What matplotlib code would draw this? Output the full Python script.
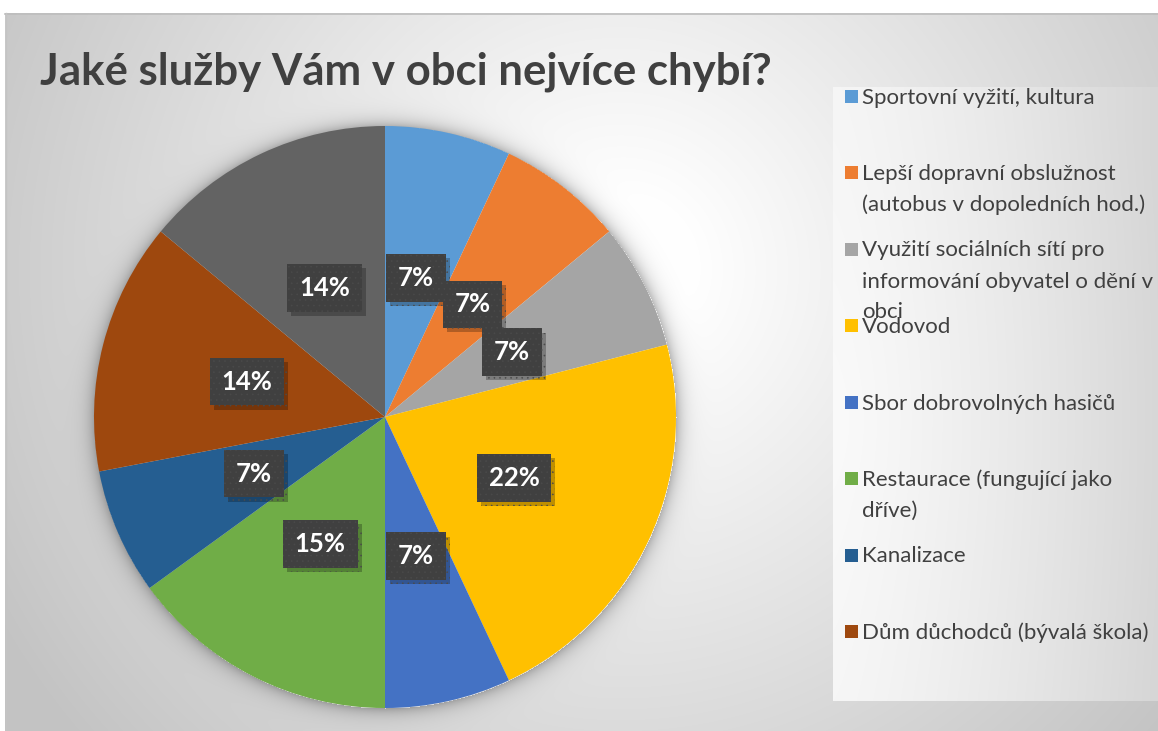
import numpy as np
import matplotlib
matplotlib.use("Agg")
import matplotlib.pyplot as plt
from matplotlib.patches import Rectangle
from matplotlib import patheffects

# ---------------- data ----------------
title = "Jaké služby Vám v obci nejvíce chybí?"
categories = [
    "Sportovní vyžití, kultura",
    "Lepší dopravní obslužnost\n(autobus v dopoledních hod.)",
    "Využití sociálních sítí pro\ninformování obyvatel o dění v\nobci",
    "Vodovod",
    "Sbor dobrovolných hasičů",
    "Restaurace (fungující jako\ndříve)",
    "Kanalizace",
    "Dům důchodců (bývalá škola)",
    "Jiné",  # ninth slice – its legend entry is cut off in the original
]
values = [7, 7, 7, 22, 7, 15, 7, 14, 14]
colors = ["#5B9BD5", "#ED7D31", "#A5A5A5", "#FFC000", "#4472C4",
          "#70AD47", "#255E91", "#9E480E", "#636363"]
legend_shown = 8

W, H = 1158, 731
FONT = ["Lato", "DejaVu Sans"]
plt.rcParams['font.family'] = FONT
plt.rcParams['hatch.linewidth'] = 0.4

fig = plt.figure(figsize=(W / 100, H / 100), dpi=100)
fig.patch.set_facecolor("white")

# ---------------- background (pixel axes) ----------------
bg = fig.add_axes([0, 0, 1, 1])
bg.set_xlim(0, W)
bg.set_ylim(H, 0)
bg.axis("off")

yy, xx = np.mgrid[0:H, 0:W].astype(float)
cx, cy = 620.0, 270.0
r = np.hypot(xx - cx, yy - cy)
t = np.clip((r - 70) / 640.0, 0, 1)
img = 255 - t * (255 - 196)

# soft shadow around the pie
pcx, pcy, pr = 385.0, 417.0, 291.0
dp = np.hypot(xx - pcx, yy - pcy) - pr
sh = np.where(dp > 0, 0.26 * np.exp(-dp / 8.0), 0)
img = img * (1 - sh)

# legend box gradient
lx0, lx1, ly0, ly1 = 833, W, 87, 700
box = (xx >= lx0) & (yy >= ly0) & (yy <= ly1)
lt = np.clip((xx - lx0) / (lx1 - lx0), 0, 1)
lr = np.clip(np.hypot(xx - 820, yy - 420) / 420.0, 0, 1)
limg = 250 - 30 * lt ** 1.3 - 6 * lr
img = np.where(box, limg, img)

# outside frame white
img[:13, :] = 255
img[:, :5] = 255
rgb = np.dstack([img, img, img]) / 255.0
bg.imshow(rgb, extent=(0, W, H, 0), interpolation="bilinear", zorder=0)
bg.plot([5, W], [13.5, 13.5], color="#bdbdbd", lw=1.2, zorder=1)
bg.plot([5.5, 5.5], [13, H], color="#c4c4c4", lw=1.0, zorder=1)

# ---------------- title ----------------
bg.text(40, 85, title, fontsize=31.5, fontweight="bold", color="#404040",
        va="baseline", ha="left", family=FONT, zorder=3)

# ---------------- legend ----------------
for i in range(legend_shown):
    y0 = 96 + 76.5 * i
    bg.add_patch(Rectangle((845, y0 - 6.5), 13, 13, facecolor=colors[i],
                           edgecolor="none", zorder=3))
    for j, line in enumerate(categories[i].split("\n")):
        bg.text(862, y0 + 7.5 + 31 * j, line, fontsize=16, color="#404040",
                va="baseline", ha="left", family=FONT, zorder=3)

# ---------------- pie ----------------
ax = fig.add_axes([(pcx - pr) / W, (H - pcy - pr) / H, 2 * pr / W, 2 * pr / H])
ax.set_facecolor("none")
wedges, texts, autotexts = ax.pie(
    values, colors=colors, startangle=90, counterclock=False,
    autopct="%1.0f%%", pctdistance=0.49, radius=1.0,
    wedgeprops=dict(linewidth=0),
)
ax.set_xlim(-1, 1)
ax.set_ylim(-1, 1)
ax.set_aspect("equal")
ax.axis("off")

for at in autotexts:
    at.set_fontsize(18.5)
    at.set_fontweight("bold")
    at.set_color("white")
    at.set_family(FONT)
    at.set_zorder(6)
    at.set_bbox(dict(boxstyle="square,pad=0.46", facecolor="#404040",
                     edgecolor="#4a4a4a", linewidth=0, hatch="..."))
    at.get_bbox_patch().set_path_effects([
        patheffects.SimplePatchShadow(offset=(3, -3), shadow_rgbFace="black",
                                      alpha=0.25),
        patheffects.Normal(),
    ])

fig.savefig("out.png", dpi=100, facecolor="white")
